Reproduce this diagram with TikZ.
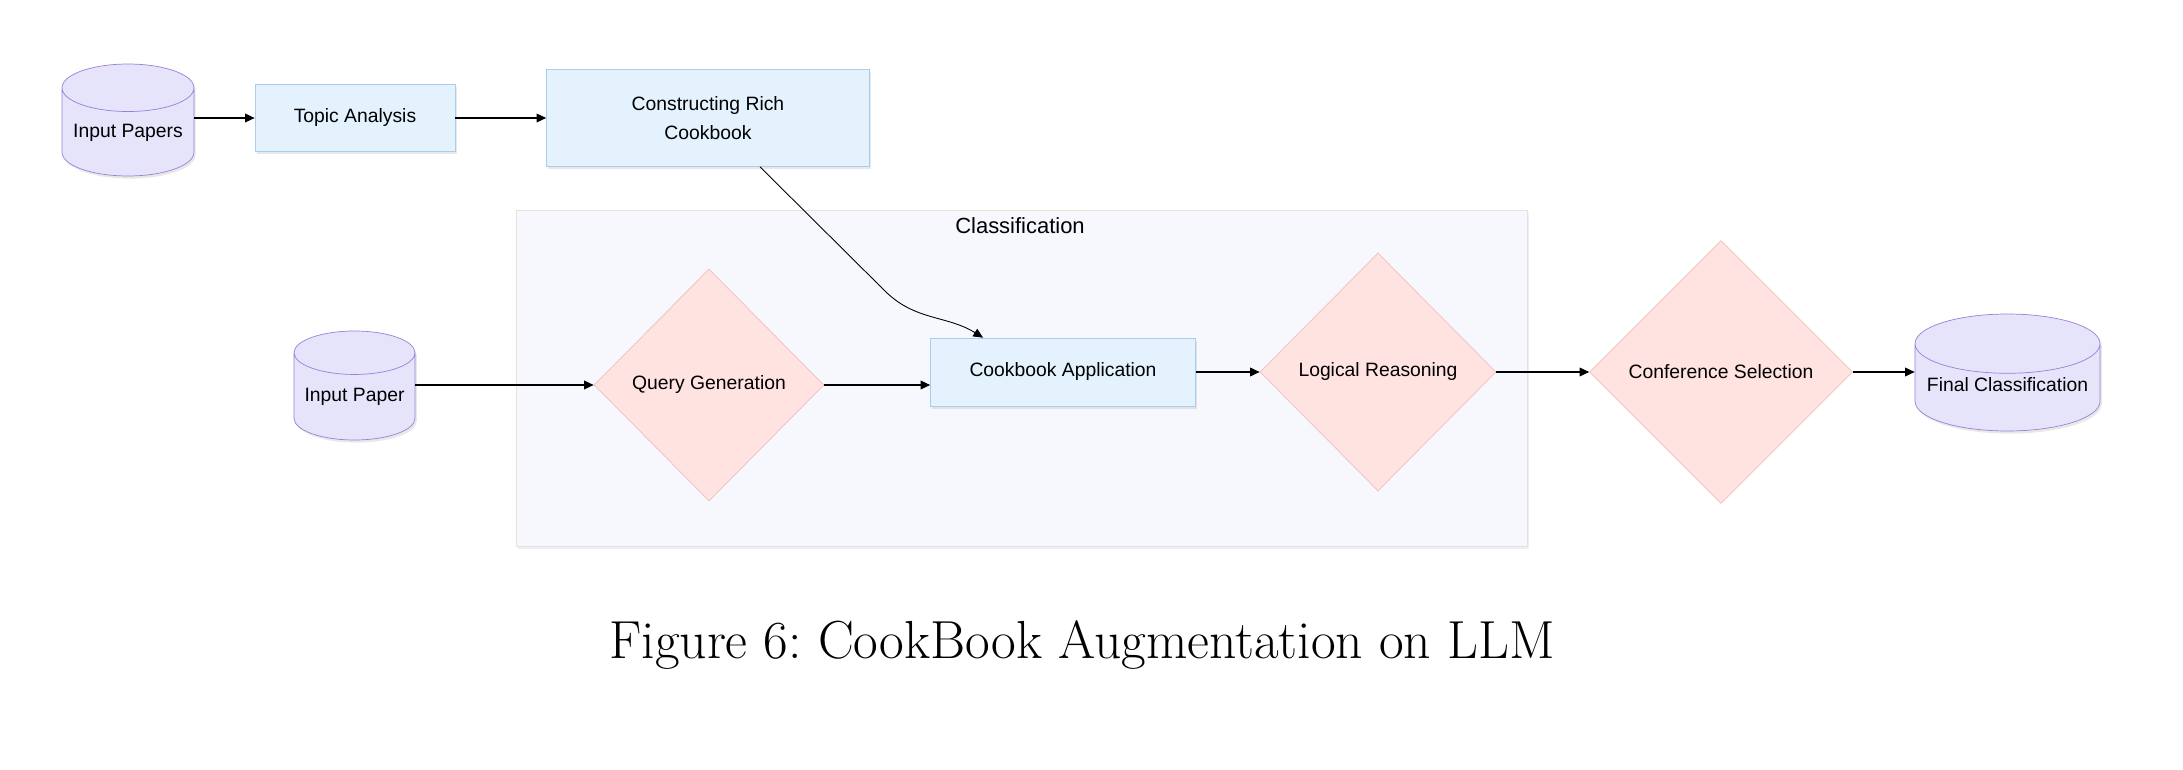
\documentclass[tikz,border=0pt]{standalone}
\usepackage{fontspec}
\setsansfont{Liberation Sans}
\usepackage{xcolor}
\usepackage{tikz}
\usetikzlibrary{shapes.geometric,arrows.meta,shadows}

\definecolor{boxfill}{HTML}{E3F2FD}
\definecolor{boxline}{HTML}{A9CDEC}
\definecolor{dbfill}{HTML}{E6E4FA}
\definecolor{dbline}{HTML}{9A80D6}
\definecolor{decfill}{HTML}{FFE3E1}
\definecolor{decline}{HTML}{F2BDBD}
\definecolor{grpfill}{HTML}{F7F8FD}
\definecolor{grpline}{HTML}{E9E2D8}

\tikzset{
    txt/.style = {font=\sffamily\fontsize{11}{16.5}\selectfont},
    proc/.style = {rectangle, draw=boxline, fill=boxfill, txt, align=center,
        drop shadow={shadow xshift=1pt, shadow yshift=-1.5pt, opacity=0.18, fill=gray}},
    store/.style = {cylinder, shape border rotate=90, aspect=0.42, anchor=shape center, text depth=4.5pt, inner sep=1pt,
        draw=dbline, fill=dbfill, txt,
        drop shadow={shadow xshift=1pt, shadow yshift=-1.5pt, opacity=0.18, fill=gray}},
    decide/.style = {diamond, aspect=1, inner sep=0pt, draw=decline, fill=decfill, txt},
    arr/.style = {-{Triangle[length=5.5pt, width=5pt]}, line width=0.7pt, black}
}

\begin{document}
\begin{tikzpicture}[x=0.02cm, y=-0.02cm]
        \useasboundingbox (0, 0) rectangle (2183, 770);

        % classification group
        \node (grp) at (1021.5, 378) [rectangle, draw=grpline, fill=grpfill, minimum width=20.22cm, minimum height=6.72cm,
            drop shadow={shadow xshift=1pt, shadow yshift=-1.5pt, opacity=0.25, fill=dbline!60}] {};
        \node (grptitle) at (1020, 226) [font=\sffamily\fontsize{12.5}{15}\selectfont] {Classification};

        % top row
        \node (inpapers) at (128, 120) [store, minimum width=2.64cm, minimum height=2.24cm] {Input Papers};
        \node (topic) at (355, 118) [proc, minimum width=4cm, minimum height=1.34cm] {Topic Analysis};
        \node (rich) at (708, 118) [proc, minimum width=6.46cm, minimum height=1.94cm] {Constructing Rich\\Cookbook};

        % main row
        \node (inpaper) at (354.5, 385.5) [store, minimum width=2.42cm, minimum height=2.18cm] {Input Paper};
        \node (query) at (709, 385) [decide, minimum width=4.6cm, minimum height=4.64cm] {Query Generation};
        \node (apply) at (1063, 372) [proc, minimum width=5.3cm, minimum height=1.36cm] {Cookbook Application};
        \node (logic) at (1378, 372) [decide, minimum width=4.72cm, minimum height=4.76cm] {Logical Reasoning};
        \node (conf) at (1721, 372) [decide, minimum width=5.26cm, minimum height=5.26cm] {Conference Selection};
        \node (final) at (2007.5, 372.5) [store, aspect=0.36, text depth=6.5pt, minimum width=3.7cm, minimum height=2.34cm] {Final Classification};

        \coordinate (bend) at (885, 291);

        \draw [arr] (inpapers.east |- topic.west) -- (topic.west);
        \draw [arr] (topic) -- (rich);
        \draw [arr, line width=0.5pt] ([xshift=1.04cm]rich.south) -- (bend) to[out=-45, in=148] ([xshift=-1.6cm]apply.north);
        \draw [arr] (inpaper.east |- query) -- (query);
        \draw [arr] (query.east) -- (query.east -| apply.west);
        \draw [arr] (apply) -- (logic);
        \draw [arr] (logic) -- (conf);
        \draw [arr] (conf) -- (conf -| final.west);

        \node (caption) at (1082, 645) [font=\fontsize{30.5}{36}\selectfont] {Figure 6:\ CookBook Augmentation on LLM};
    \end{tikzpicture}
\end{document}
